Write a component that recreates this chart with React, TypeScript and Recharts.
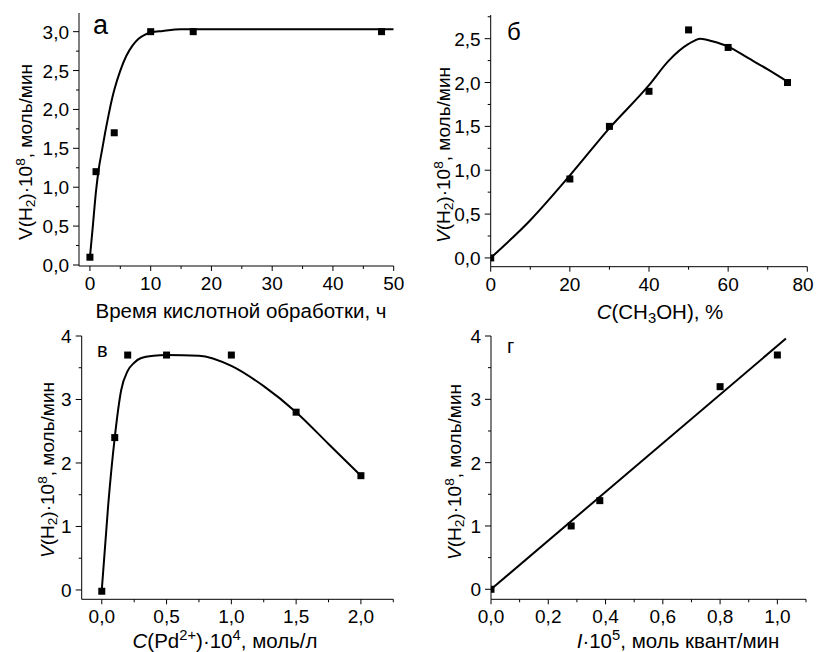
import React from "react";
import { ComposedChart, Line, Scatter, XAxis, YAxis } from "recharts";

const FONT = '"Liberation Sans", Arial, sans-serif';

// а: time of acid treatment
const A_PTS_X = [0, 1, 4, 10, 17, 48];
const A_PTS_Y = [0.1, 1.2, 1.7, 3.0, 3.0, 3.0];
const A_FIT_X = [0, 0.5, 1, 1.5, 2, 2.5, 3, 3.5, 4, 5, 6, 7, 8, 9, 10, 12, 15, 20, 30, 40, 50];
const A_FIT_Y = [0.1, 0.52, 0.95, 1.26, 1.48, 1.7, 1.9, 2.09, 2.25, 2.5, 2.69, 2.82, 2.91, 2.96, 2.99, 3.01, 3.03, 3.03, 3.03, 3.03, 3.03];

// б: methanol content
const B_PTS_X = [0, 20, 30, 40, 50, 60, 75];
const B_PTS_Y = [0, 0.9, 1.5, 1.9, 2.6, 2.4, 2.0];
const B_FIT_X = [0, 10, 20, 30, 40, 45, 50, 53, 56, 60, 65, 70, 75];
const B_FIT_Y = [0, 0.43, 0.94, 1.48, 1.97, 2.25, 2.44, 2.5, 2.47, 2.41, 2.28, 2.15, 2.01];

// в: Pd2+ concentration
const V_PTS_X = [0, 0.1, 0.2, 0.5, 1.0, 1.5, 2.0];
const V_PTS_Y = [-0.02, 2.4, 3.7, 3.7, 3.7, 2.8, 1.8];
const V_FIT_X = [0, 0.05, 0.1, 0.15, 0.2, 0.25, 0.3, 0.4, 0.5, 0.75, 1.0, 1.25, 1.5, 1.75, 2.0];
const V_FIT_Y = [0, 1.35, 2.4, 3.15, 3.45, 3.58, 3.65, 3.69, 3.7, 3.69, 3.53, 3.21, 2.8, 2.3, 1.8];

// г: light intensity
const G_PTS_X = [0, 0.28, 0.38, 0.8, 1.0];
const G_PTS_Y = [0, 1.0, 1.4, 3.2, 3.7];
const G_FIT_X = [0, 1.03];
const G_FIT_Y = [0, 3.96];

// tick values
const A_X_MAJOR = [0, 10, 20, 30, 40, 50];
const A_X_MINOR = [5, 15, 25, 35, 45];
const A_Y_MAJOR = [0, 0.5, 1, 1.5, 2, 2.5, 3];
const A_Y_MINOR = [0.25, 0.75, 1.25, 1.75, 2.25, 2.75];
const B_X_MAJOR = [0, 20, 40, 60, 80];
const B_X_MINOR = [10, 30, 50, 70];
const B_Y_MAJOR = [0, 0.5, 1, 1.5, 2, 2.5];
const B_Y_MINOR = [0.25, 0.75, 1.25, 1.75, 2.25, 2.75];
const V_X_MAJOR = [0, 0.5, 1, 1.5, 2];
const V_X_MINOR = [0.25, 0.75, 1.25, 1.75, 2.25];
const G_X_MAJOR = [0, 0.2, 0.4, 0.6, 0.8, 1.0];
const G_X_MINOR = [0.1, 0.3, 0.5, 0.7, 0.9, 1.1];
const VG_Y_MAJOR = [0, 1, 2, 3, 4];
const VG_Y_MINOR = [0.5, 1.5, 2.5, 3.5];

type Pt = { x: number; y: number };
const zip = (xs: number[], ys: number[]): Pt[] => xs.map((x, i) => ({ x, y: ys[i] }));

const int = (v: number) => String(Math.round(v));
const dec1 = (v: number) => v.toFixed(1).replace(".", ",");

const has = (arr: number[], v: number) => arr.some((m) => Math.abs(m - v) < 1e-9);

interface PanelProps {
  box: [number, number, number, number];
  plot: [number, number, number, number];
  xDomain: [number, number];
  yDomain: [number, number];
  xMajor: number[];
  xMinor: number[];
  yMajor: number[];
  yMinor: number[];
  xFmt: (v: number) => string;
  yFmt: (v: number) => string;
  points: Pt[];
  fit: Pt[];
}

function Panel(p: PanelProps) {
  const [x0, y0, w, h] = p.box;
  const [pl, pt, pr, pb] = p.plot;
  const xTicks = [...p.xMajor, ...p.xMinor].sort((a, b) => a - b);
  const yTicks = [...p.yMajor, ...p.yMinor].sort((a, b) => a - b);

  const xTick = (props: any) => {
    const { x, y, payload } = props;
    const major = has(p.xMajor, payload.value);
    // keep the last label inside the picture's right edge
    const tx = Math.min(x, w - 13);
    return (
      <g>
        <line x1={x} x2={x} y1={y} y2={y + (major ? 5 : 3)} stroke="#000" />
        {major && (
          <text x={tx} y={y + 24} textAnchor="middle" fontSize={19} fontFamily={FONT} fill="#000">
            {p.xFmt(payload.value)}
          </text>
        )}
      </g>
    );
  };

  const yTick = (props: any) => {
    const { x, y, payload } = props;
    const major = has(p.yMajor, payload.value);
    return (
      <g>
        <line x1={x} x2={x - (major ? 6 : 3)} y1={y} y2={y} stroke="#000" />
        {major && (
          <text x={x - 10} y={y + 7} textAnchor="end" fontSize={19} fontFamily={FONT} fill="#000">
            {p.yFmt(payload.value)}
          </text>
        )}
      </g>
    );
  };

  return (
    <div style={{ position: "absolute", left: x0, top: y0, width: w, height: h }}>
      <ComposedChart
        width={w}
        height={h}
        margin={{ top: pt - y0, right: x0 + w - pr, bottom: y0 + h - pb - 30, left: 0 }}
      >
        <XAxis
          type="number"
          dataKey="x"
          domain={p.xDomain}
          allowDataOverflow
          ticks={xTicks}
          interval={0}
          tickSize={0}
          tickMargin={0}
          tickLine={false}
          height={30}
          axisLine={{ stroke: "#000", strokeWidth: 1 }}
          tick={xTick}
        />
        <YAxis
          type="number"
          dataKey="y"
          domain={p.yDomain}
          allowDataOverflow
          ticks={yTicks}
          interval={0}
          tickSize={0}
          tickMargin={0}
          tickLine={false}
          width={pl - x0}
          axisLine={{ stroke: "#000", strokeWidth: 1 }}
          tick={yTick}
        />
        <Line
          data={p.fit}
          dataKey="y"
          type="monotone"
          stroke="#000"
          strokeWidth={2}
          dot={false}
          activeDot={false}
          isAnimationActive={false}
        />
        <Scatter
          data={p.points}
          dataKey="y"
          fill="#000"
          isAnimationActive={false}
          shape={(s: any) => <rect x={s.cx - 3.5} y={s.cy - 3.5} width={7} height={7} fill="#000" />}
        />
      </ComposedChart>
    </div>
  );
}

const sub = { fontSize: "0.72em", verticalAlign: "-0.28em", lineHeight: 0 } as const;
const sup = { fontSize: "0.72em", verticalAlign: "0.5em", lineHeight: 0 } as const;

function YTitle({ cx, cy, italic }: { cx: number; cy: number; italic: boolean }) {
  return (
    <div
      style={{
        position: "absolute",
        left: cx,
        top: cy,
        transform: "translate(-50%, -50%) rotate(-90deg)",
        whiteSpace: "nowrap",
        fontSize: 19,
        fontFamily: FONT,
        lineHeight: 1,
      }}
    >
      <span style={{ fontStyle: italic ? "italic" : "normal" }}>V</span>(H<span style={sub}>2</span>)·10
      <span style={sup}>8</span>, моль/мин
    </div>
  );
}

function XTitle({ cx, cy, children }: { cx: number; cy: number; children: React.ReactNode }) {
  return (
    <div
      style={{
        position: "absolute",
        left: cx,
        top: cy,
        transform: "translate(-50%, -50%)",
        whiteSpace: "nowrap",
        fontSize: 20.5,
        fontFamily: FONT,
        lineHeight: 1,
      }}
    >
      {children}
    </div>
  );
}

function Letter({ left, top, size, text }: { left: number; top: number; size: number; text: string }) {
  return (
    <div style={{ position: "absolute", left, top, fontSize: size, fontFamily: FONT, lineHeight: 1 }}>
      {text}
    </div>
  );
}

export default function App() {
  return (
    <div
      style={{
        position: "absolute",
        left: 0,
        top: 0,
        width: 816,
        height: 652,
        background: "#fff",
        color: "#000",
        overflow: "hidden",
      }}
    >
      <Panel
        box={[0, 0, 408, 326]}
        plot={[79, 13, 393.7, 266]}
        xDomain={[-1.8, 50]}
        yDomain={[-0.013, 3.24]}
        xMajor={A_X_MAJOR}
        xMinor={A_X_MINOR}
        yMajor={A_Y_MAJOR}
        yMinor={A_Y_MINOR}
        xFmt={int}
        yFmt={dec1}
        points={zip(A_PTS_X, A_PTS_Y)}
        fit={zip(A_FIT_X, A_FIT_Y)}
      />
      <Panel
        box={[408, 0, 408, 326]}
        plot={[490.7, 15, 807.3, 266.7]}
        xDomain={[0, 80]}
        yDomain={[-0.1, 2.77]}
        xMajor={B_X_MAJOR}
        xMinor={B_X_MINOR}
        yMajor={B_Y_MAJOR}
        yMinor={B_Y_MINOR}
        xFmt={int}
        yFmt={dec1}
        points={zip(B_PTS_X, B_PTS_Y)}
        fit={zip(B_FIT_X, B_FIT_Y)}
      />
      <Panel
        box={[0, 326, 408, 326]}
        plot={[81.7, 336, 393.3, 599.3]}
        xDomain={[-0.155, 2.25]}
        yDomain={[-0.147, 4]}
        xMajor={V_X_MAJOR}
        xMinor={V_X_MINOR}
        yMajor={VG_Y_MAJOR}
        yMinor={VG_Y_MINOR}
        xFmt={dec1}
        yFmt={int}
        points={zip(V_PTS_X, V_PTS_Y)}
        fit={zip(V_FIT_X, V_FIT_Y)}
      />
      <Panel
        box={[408, 326, 408, 326]}
        plot={[491, 336, 806, 599.3]}
        xDomain={[0, 1.1]}
        yDomain={[-0.158, 4]}
        xMajor={G_X_MAJOR}
        xMinor={G_X_MINOR}
        yMajor={VG_Y_MAJOR}
        yMinor={VG_Y_MINOR}
        xFmt={dec1}
        yFmt={int}
        points={zip(G_PTS_X, G_PTS_Y)}
        fit={zip(G_FIT_X, G_FIT_Y)}
      />

      <YTitle cx={25} cy={152} italic={false} />
      <YTitle cx={443} cy={155} italic />
      <YTitle cx={47} cy={470} italic />
      <YTitle cx={454} cy={472} italic />

      <XTitle cx={241} cy={311}>Время кислотной обработки, ч</XTitle>
      <XTitle cx={660} cy={312}>
        <i>C</i>(CH<span style={sub}>3</span>OH), %
      </XTitle>
      <XTitle cx={225} cy={641}>
        <i>C</i>(Pd<span style={sup}>2+</span>)·10<span style={sup}>4</span>, моль/л
      </XTitle>
      <XTitle cx={678} cy={641}>
        <i>I</i>·10<span style={sup}>5</span>, моль квант/мин
      </XTitle>

      <Letter left={93} top={12} size={27} text="а" />
      <Letter left={507} top={20} size={24} text="б" />
      <Letter left={97} top={340} size={20} text="в" />
      <Letter left={507} top={336} size={20} text="г" />
    </div>
  );
}
